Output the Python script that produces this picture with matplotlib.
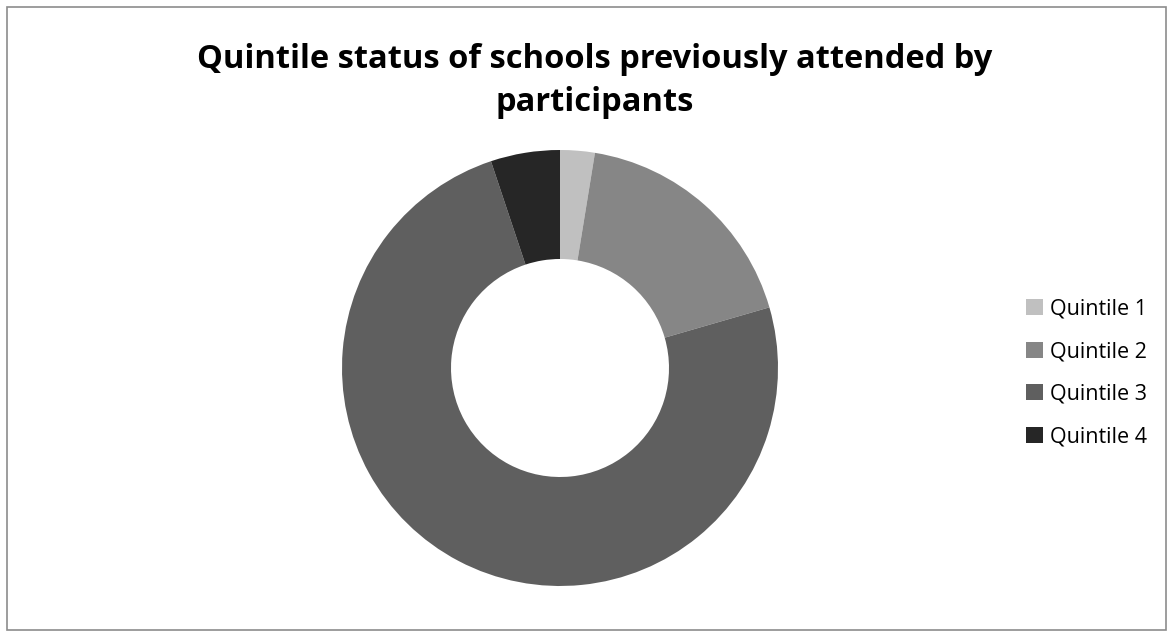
import matplotlib
matplotlib.use("Agg")
import matplotlib.pyplot as plt
from matplotlib.patches import Rectangle, Patch

categories = ["Quintile 1", "Quintile 2", "Quintile 3", "Quintile 4"]
values = [1, 7, 29, 2]
colors = ["#c0c0c0", "#868686", "#5f5f5f", "#262626"]
title = "Quintile status of schools previously attended by\nparticipants"

plt.rcParams['font.family'] = ['Open Sans', 'DejaVu Sans']
W, H = 1173, 632
fig = plt.figure(figsize=(W/100, H/100), dpi=100)
fig.patch.set_facecolor("white")

# border
fig.add_artist(Rectangle((7/W, 2/H), (1166-7)/W, (625-2)/H, transform=fig.transFigure,
                         fill=False, edgecolor="#8c8c8c", linewidth=1.2))

cx, cy, r = 560, 368, 218
ax = fig.add_axes([(cx-r)/W, (H-cy-r)/H, 2*r/W, 2*r/H])
ax.pie(values, colors=colors, startangle=90, counterclock=False, radius=1,
       wedgeprops=dict(width=0.5, edgecolor="none"))
ax.set_xlim(-1, 1); ax.set_ylim(-1, 1)
ax.set_aspect("equal")
ax.axis("off")

fig.text(595/W, 1-81/H, title, ha="center", va="center", fontsize=23.5,
         fontweight="bold", linespacing=1.42)

handles = [Patch(facecolor=c, edgecolor="none") for c in colors]
fig.legend(handles, categories, loc="center left", bbox_to_anchor=(1007/W, 1-373/H),
           frameon=False, fontsize=15.5, handlelength=0.75, handleheight=0.75,
           handletextpad=0.35, labelspacing=1.0)

fig.savefig("out.png", dpi=100, facecolor="white")
